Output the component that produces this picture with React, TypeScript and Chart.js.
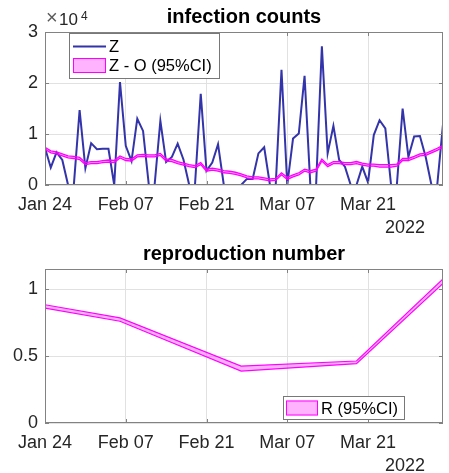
import React, { useEffect, useRef } from 'react';
import { Chart, registerables } from 'chart.js';

Chart.register(...registerables);

// ---------- data ----------
const tickDays = [0, 14, 28, 42, 56];
const tickLabels = ['Jan 24', 'Feb 07', 'Feb 21', 'Mar 07', 'Mar 21'];
const lastDay = 69;

const zValues = [
  7300, 3400, 6400, 4900, 0, 0, 14700, 3300, 8200, 7000,
  7100, 7100, 0, 20200, 7700, 4700, 13000, 10600, 0, 0,
  12600, 4500, 5500, 8100, 5000, 0, 0, 17900, 2800, 4400,
  8000, 0, 0, 0, 0, 1200, 1200, 6200, 7400, 0,
  0, 22600, 0, 9100, 10100, 21400, 0, 0, 27200, 6200,
  11600, 4900, 3600, 0, 0, 3600, 500, 9800, 12700, 11100,
  0, 0, 15000, 5500, 9500, 9600, 5500, 0, 0, 11900,
];

const zoUpper = [
  7400, 6700, 6500, 6100, 5700, 5600, 5400, 4400, 4600, 4600,
  4800, 4900, 4800, 5700, 5200, 5100, 5900, 6000, 5900, 5900,
  6200, 5100, 5000, 4600, 4300, 4000, 3800, 4400, 3100, 3300,
  3100, 2800, 2700, 2500, 2200, 1800, 1600, 1600, 1400, 1200,
  1300, 2400, 1500, 2000, 2400, 3100, 2800, 3100, 5100, 4000,
  4600, 4600, 4400, 4400, 4600, 4300, 4100, 4100, 4000, 4000,
  4000, 4100, 5200, 5200, 5600, 6100, 6200, 6700, 7200, 7800,
];

const zoLower = [
  7000, 6300, 6100, 5700, 5300, 5200, 5000, 4000, 4200, 4200,
  4400, 4500, 4400, 5300, 4800, 4700, 5500, 5600, 5500, 5500,
  5800, 4700, 4600, 4200, 3900, 3600, 3400, 4000, 2700, 2900,
  2700, 2400, 2300, 2100, 1800, 1400, 1200, 1200, 1000, 800,
  900, 2000, 1100, 1600, 2000, 2700, 2400, 2700, 4700, 3600,
  4200, 4200, 4000, 4000, 4200, 3900, 3700, 3700, 3500, 3500,
  3500, 3700, 4800, 4800, 5200, 5700, 5800, 6300, 6800, 7400,
];

const countTicks = [0, 10000, 20000, 30000];
const countMax = 30000;

const rDays = [0, 13, 34, 54, 69];
const rUpper = [0.883, 0.785, 0.425, 0.463, 1.075];
const rLower = [0.858, 0.76, 0.388, 0.443, 1.043];
const rTicks = [0, 0.5, 1];
const rMax = 1.15;

// ---------- styles ----------
const FONT = '"Liberation Sans", Arial, Helvetica, sans-serif';
const TEXT = 'rgb(38,38,38)';
const GRID = 'rgb(225,225,225)';
const BOX = 'rgb(130,130,130)';
const BLUE = 'rgb(51,51,170)';
const MAGENTA = 'rgb(255,0,255)';
const PINK = 'rgba(255,0,255,0.3)';
const PINK_SOLID = 'rgb(255,179,255)';

const W = 449;
const H = 236;
const PLOT_LEFT = 45;
const PLOT_RIGHT = 443;
const PLOT_TOP = 32;

type LegendItem = { kind: 'line' | 'patch'; label: string };

function makeFramePlugin(opts: {
  title: string;
  legend: { x0: number; y0: number; x1: number; y1: number; items: LegendItem[]; rowY: number[]; sampleX0: number; sampleX1: number; textX: number };
  exponent: boolean;
}) {
  return {
    id: 'matlabFrame',
    afterDraw(chart: any) {
      const ctx = chart.ctx as CanvasRenderingContext2D;
      const a = chart.chartArea;
      const xs = chart.scales.x;
      const ys = chart.scales.y;
      ctx.save();
      // box
      ctx.strokeStyle = BOX;
      ctx.lineWidth = 1;
      ctx.strokeRect(Math.round(a.left) + 0.5, Math.round(a.top) + 0.5, Math.round(a.right - a.left) - 1, Math.round(a.bottom - a.top) - 1);
      // inward ticks
      const tl = 4;
      ctx.beginPath();
      xs.ticks.forEach((t: any) => {
        const px = Math.round(xs.getPixelForValue(t.value)) + 0.5;
        ctx.moveTo(px, a.bottom);
        ctx.lineTo(px, a.bottom - tl);
        ctx.moveTo(px, a.top);
        ctx.lineTo(px, a.top + tl);
      });
      ys.ticks.forEach((t: any) => {
        const py = Math.round(ys.getPixelForValue(t.value)) + 0.5;
        ctx.moveTo(a.left, py);
        ctx.lineTo(a.left + tl, py);
        ctx.moveTo(a.right, py);
        ctx.lineTo(a.right - tl, py);
      });
      ctx.stroke();
      // title
      ctx.fillStyle = '#000';
      ctx.font = `bold 20px ${FONT}`;
      ctx.textAlign = 'center';
      ctx.textBaseline = 'alphabetic';
      ctx.fillText(opts.title, (a.left + a.right) / 2, 23);
      // year label
      ctx.fillStyle = TEXT;
      ctx.font = `18px ${FONT}`;
      ctx.textBaseline = 'middle';
      ctx.fillText('2022', 405, a.bottom + 43);
      // exponent
      if (opts.exponent) {
        ctx.textAlign = 'left';
        ctx.textBaseline = 'alphabetic';
        ctx.fillStyle = 'rgb(90,90,90)';
        ctx.font = `20px ${FONT}`;
        ctx.fillText('\u00d7', 46, 24);
        ctx.fillStyle = TEXT;
        ctx.font = `17px ${FONT}`;
        ctx.fillText('10', 59, 25);
        ctx.font = `12px ${FONT}`;
        ctx.fillText('4', 81, 20);
      }
      // legend
      const L = opts.legend;
      ctx.fillStyle = '#fff';
      ctx.fillRect(L.x0, L.y0, L.x1 - L.x0, L.y1 - L.y0);
      ctx.strokeStyle = 'rgb(120,120,120)';
      ctx.lineWidth = 1;
      ctx.strokeRect(L.x0 + 0.5, L.y0 + 0.5, L.x1 - L.x0 - 1, L.y1 - L.y0 - 1);
      L.items.forEach((it, i) => {
        const cy = L.rowY[i];
        if (it.kind === 'line') {
          ctx.strokeStyle = BLUE;
          ctx.lineWidth = 2;
          ctx.beginPath();
          ctx.moveTo(L.sampleX0, cy);
          ctx.lineTo(L.sampleX1, cy);
          ctx.stroke();
        } else {
          ctx.fillStyle = PINK_SOLID;
          ctx.fillRect(L.sampleX0, cy - 7.5, L.sampleX1 - L.sampleX0, 15);
          ctx.strokeStyle = MAGENTA;
          ctx.lineWidth = 1;
          ctx.strokeRect(L.sampleX0 + 0.5, cy - 7.5 + 0.5, L.sampleX1 - L.sampleX0 - 1, 14);
        }
        ctx.fillStyle = '#000';
        ctx.font = `16.5px ${FONT}`;
        ctx.textAlign = 'left';
        ctx.textBaseline = 'middle';
        ctx.fillText(it.label, L.textX, cy + 1);
      });
      ctx.restore();
    },
  };
}

function baseOptions(yMax: number, yTicks: number[], yFmt: (v: number) => string, plotBottom: number) {
  return {
    responsive: false,
    animation: false as const,
    devicePixelRatio: 1,
    layout: { padding: { top: PLOT_TOP, left: 0, right: W - PLOT_RIGHT, bottom: 0 } },
    plugins: { legend: { display: false }, title: { display: false }, tooltip: { enabled: false } },
    elements: { point: { radius: 0 } },
    scales: {
      x: {
        type: 'linear' as const,
        min: 0,
        max: lastDay,
        afterBuildTicks: (s: any) => {
          s.ticks = tickDays.map((v) => ({ value: v }));
        },
        afterFit: (s: any) => {
          s.height = H - plotBottom;
        },
        ticks: {
          autoSkip: false,
          maxRotation: 0,
          padding: 9,
          color: TEXT,
          font: { family: FONT, size: 18 },
          callback: (v: any) => {
            const i = tickDays.indexOf(Number(v));
            return i >= 0 ? tickLabels[i] : '';
          },
        },
        grid: { color: GRID, drawTicks: false },
        border: { display: false },
      },
      y: {
        type: 'linear' as const,
        min: 0,
        max: yMax,
        afterBuildTicks: (s: any) => {
          s.ticks = yTicks.map((v) => ({ value: v }));
        },
        afterFit: (s: any) => {
          s.width = PLOT_LEFT;
        },
        ticks: {
          padding: 7,
          color: TEXT,
          font: { family: FONT, size: 18 },
          callback: (v: any) => yFmt(Number(v)),
        },
        grid: { color: GRID, drawTicks: false },
        border: { display: false },
      },
    },
  };
}

function CountsChart() {
  const ref = useRef<HTMLCanvasElement>(null);
  useEffect(() => {
    if (!ref.current) return;
    const chart = new Chart(ref.current, {
      type: 'line',
      data: {
        datasets: [
          {
            label: 'Z',
            data: zValues.map((v, i) => ({ x: i, y: v })),
            borderColor: BLUE,
            borderWidth: 2,
            fill: false,
            order: 3,
          },
          {
            label: 'Z - O upper',
            data: zoUpper.map((v, i) => ({ x: i, y: v })),
            borderColor: MAGENTA,
            borderWidth: 1.3,
            backgroundColor: PINK,
            fill: '+1',
            order: 1,
          },
          {
            label: 'Z - O lower',
            data: zoLower.map((v, i) => ({ x: i, y: v })),
            borderColor: MAGENTA,
            borderWidth: 1.3,
            fill: false,
            order: 2,
          },
        ],
      },
      options: baseOptions(countMax, countTicks, (v) => String(v / 10000), 185) as any,
      plugins: [
        makeFramePlugin({
          title: 'infection counts',
          exponent: true,
          legend: {
            x0: 69, y0: 33, x1: 220, y1: 79,
            items: [
              { kind: 'line', label: 'Z' },
              { kind: 'patch', label: 'Z - O (95%CI)' },
            ],
            rowY: [46.5, 65.5],
            sampleX0: 73, sampleX1: 106, textX: 109,
          },
        }),
      ],
    });
    return () => chart.destroy();
  }, []);
  return <canvas ref={ref} width={W} height={H} style={{ position: 'absolute', left: 0, top: 0, width: W, height: H }} />;
}

function RChart() {
  const ref = useRef<HTMLCanvasElement>(null);
  useEffect(() => {
    if (!ref.current) return;
    const chart = new Chart(ref.current, {
      type: 'line',
      data: {
        datasets: [
          {
            label: 'R upper',
            data: rUpper.map((v, i) => ({ x: rDays[i], y: v })),
            borderColor: MAGENTA,
            borderWidth: 1.2,
            backgroundColor: PINK,
            fill: '+1',
            order: 1,
          },
          {
            label: 'R lower',
            data: rLower.map((v, i) => ({ x: rDays[i], y: v })),
            borderColor: MAGENTA,
            borderWidth: 1.2,
            fill: false,
            order: 2,
          },
        ],
      },
      options: baseOptions(rMax, rTicks, (v) => String(v), 186) as any,
      plugins: [
        makeFramePlugin({
          title: 'reproduction number',
          exponent: false,
          legend: {
            x0: 283, y0: 159, x1: 405, y1: 183,
            items: [{ kind: 'patch', label: 'R (95%CI)' }],
            rowY: [171],
            sampleX0: 286, sampleX1: 318, textX: 321,
          },
        }),
      ],
    });
    return () => chart.destroy();
  }, []);
  return <canvas ref={ref} width={W} height={H} style={{ position: 'absolute', left: 0, top: 237, width: W, height: H }} />;
}

export default function App() {
  return (
    <div style={{ position: 'absolute', left: 0, top: 0, width: W, height: 473, background: '#fff', overflow: 'hidden' }}>
      <CountsChart />
      <RChart />
    </div>
  );
}
